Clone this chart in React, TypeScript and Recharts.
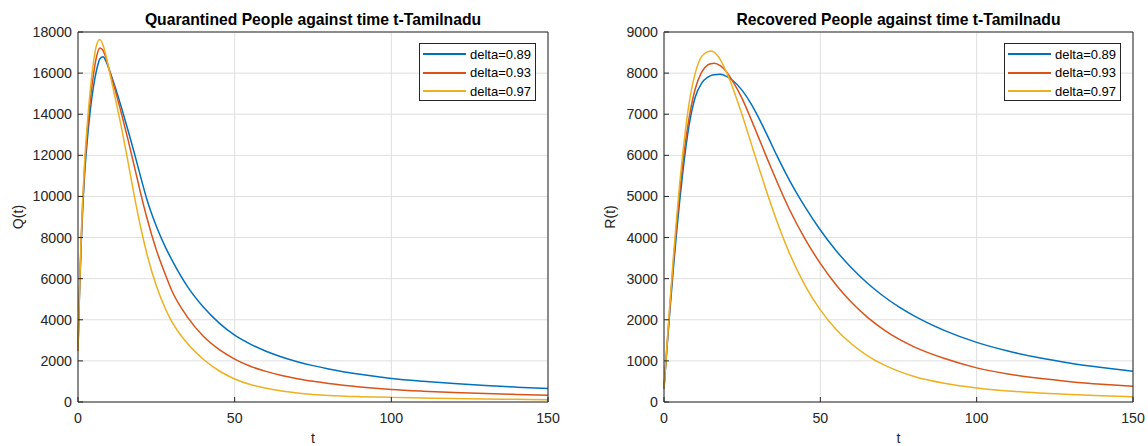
import React from 'react';
import { LineChart, Line, XAxis, YAxis, CartesianGrid, Legend } from 'recharts';

// ---------- data ----------
const seriesNames = ['delta=0.89', 'delta=0.93', 'delta=0.97'];
const seriesColors = ['#0072BD', '#D95319', '#EDB120'];

const timeTicks = [0, 50, 100, 150];
const qTicks = [0, 2000, 4000, 6000, 8000, 10000, 12000, 14000, 16000, 18000];
const rTicks = [0, 1000, 2000, 3000, 4000, 5000, 6000, 7000, 8000, 9000];

const qTime = [0, 0.5, 1, 2, 3, 4, 5, 6, 7, 8, 9, 10, 12, 14, 16, 18, 20, 22, 25, 28, 30, 35, 40, 45, 50, 55, 60, 65, 70, 75, 80, 90, 100, 110, 120, 130, 140, 150];
const qDelta089 = [2500, 5400, 7600, 10800, 12800, 14300, 15400, 16200, 16700, 16800, 16550, 16150, 15250, 14250, 13200, 12100, 10950, 9850, 8550, 7500, 6900, 5600, 4620, 3850, 3250, 2817, 2472, 2193, 1962, 1769, 1606, 1346, 1149, 1010, 895, 800, 722, 655];
const qDelta093 = [2500, 5500, 7800, 11100, 13200, 14800, 16000, 16850, 17220, 17100, 16700, 16150, 15100, 13950, 12740, 11450, 10150, 8950, 7400, 6150, 5400, 4120, 3200, 2560, 2090, 1740, 1490, 1293, 1135, 1008, 900, 732, 610, 527, 462, 410, 366, 330];
const qDelta097 = [2500, 5600, 8000, 11400, 13600, 15300, 16600, 17400, 17630, 17350, 16800, 16100, 14700, 13250, 11650, 10000, 8500, 7200, 5650, 4500, 3900, 2830, 2080, 1520, 1120, 850, 670, 540, 440, 370, 320, 260, 225, 195, 170, 150, 130, 114];

const rTime = [0, 1, 2, 3, 4, 5, 6, 7, 8, 10, 12, 14, 15, 16, 18, 20, 22, 25, 28, 30, 33, 36, 40, 45, 50, 55, 60, 65, 70, 75, 80, 90, 100, 110, 120, 130, 140, 150];
const rDelta089 = [330, 1350, 2330, 3250, 4100, 4880, 5580, 6200, 6720, 7420, 7750, 7900, 7940, 7960, 7970, 7920, 7820, 7580, 7235, 6955, 6490, 6010, 5410, 4760, 4185, 3685, 3260, 2895, 2585, 2320, 2095, 1730, 1450, 1240, 1075, 945, 840, 748];
const rDelta093 = [330, 1400, 2430, 3400, 4300, 5100, 5800, 6400, 6900, 7620, 8020, 8200, 8230, 8240, 8180, 8030, 7800, 7380, 6850, 6480, 5920, 5380, 4700, 3980, 3370, 2850, 2420, 2065, 1775, 1535, 1340, 1050, 830, 680, 575, 495, 432, 382];
const rDelta097 = [330, 1450, 2520, 3520, 4450, 5300, 6050, 6700, 7250, 8000, 8400, 8520, 8540, 8510, 8330, 8020, 7640, 6980, 6260, 5780, 5080, 4420, 3640, 2850, 2240, 1770, 1410, 1130, 915, 750, 620, 450, 341, 270, 220, 182, 152, 130];

// ---------- helpers ----------
const buildRows = (time: number[], a: number[], b: number[], c: number[]) =>
  time.map((t, i) => ({ t, d1: a[i], d2: b[i], d3: c[i] }));

const qRows = buildRows(qTime, qDelta089, qDelta093, qDelta097);
const rRows = buildRows(rTime, rDelta089, rDelta093, rDelta097);

const FONT = '"Liberation Sans", Arial, Helvetica, sans-serif';
const AXIS = '#262626';
const TEXT = '#262626';
const GRID = '#dfdfdf';
const AXIS_FONT = 14.2;

const renderLegend = (props: any) => {
  const payload = props.payload || [];
  return (
    <div
      style={{
        border: `1px solid ${AXIS}`,
        background: '#fff',
        boxSizing: 'border-box',
        width: 117,
        height: 58,
        paddingTop: 1,
        paddingLeft: 3,
        fontFamily: FONT,
        fontSize: 13,
        color: '#000',
      }}
    >
      {payload.map((p: any, i: number) => (
        <div key={i} style={{ display: 'flex', alignItems: 'center', height: 18.5, whiteSpace: 'nowrap' }}>
          <span style={{ display: 'inline-block', width: 43, height: 2, background: seriesColors[i] || p.color, marginRight: 4 }} />
          <span>{p.value}</span>
        </div>
      ))}
    </div>
  );
};

const makeYLabel = (text: string, cx: number) => (props: any) => {
  const vb = props.viewBox || {};
  const cy = (vb.y ?? 32) + (vb.height ?? 370) / 2;
  return (
    <text
      x={cx}
      y={cy}
      transform={`rotate(-90, ${cx}, ${cy})`}
      textAnchor="middle"
      dominantBaseline="central"
      fill={TEXT}
      fontSize={AXIS_FONT}
      fontFamily={FONT}
    >
      {text}
    </text>
  );
};

type PanelProps = {
  left: number;
  title: string;
  rows: any[];
  yTicks: number[];
  yMax: number;
  yLabel: string;
  yLabelX: number;
  yAxisWidth: number;
  rightMargin: number;
  legendLeft: number;
};

const Panel = ({ left, title, rows, yTicks, yMax, yLabel, yLabelX, yAxisWidth, rightMargin, legendLeft }: PanelProps) => {
  const width = 574;
  const height = 446;
  const plotLeft = yAxisWidth;
  const plotWidth = width - yAxisWidth - rightMargin;
  const tickStyle = { fill: TEXT, fontSize: AXIS_FONT, fontFamily: FONT };
  return (
    <div style={{ position: 'absolute', left, top: 0, width, height }}>
      <div
        style={{
          position: 'absolute',
          left: plotLeft,
          width: plotWidth,
          top: 11,
          textAlign: 'center',
          fontFamily: FONT,
          fontWeight: 'bold',
          fontSize: 15.7,
          lineHeight: '18px',
          color: '#000',
          zIndex: 2,
          whiteSpace: 'nowrap',
        }}
      >
        {title}
      </div>
      <LineChart width={width} height={height} data={rows} margin={{ top: 31, right: rightMargin - 1, bottom: 0, left: 0 }}>
        <CartesianGrid stroke={GRID} strokeWidth={1} />
        <XAxis
          dataKey="t"
          type="number"
          domain={[0, 150]}
          ticks={timeTicks}
          interval={0}
          height={44}
          axisLine={{ stroke: AXIS, strokeWidth: 1 }}
          tickLine={{ stroke: AXIS }}
          tickSize={-5}
          tickMargin={16}
          tick={tickStyle}
          label={{ value: 't', position: 'insideBottom', offset: 3, fill: TEXT, fontSize: AXIS_FONT, fontFamily: FONT }}
        />
        <XAxis
          xAxisId="top"
          orientation="top"
          dataKey="t"
          type="number"
          domain={[0, 150]}
          ticks={timeTicks}
          interval={0}
          height={1}
          tick={false}
          tickSize={-5}
          axisLine={{ stroke: AXIS, strokeWidth: 1 }}
          tickLine={{ stroke: AXIS }}
        />
        <YAxis
          type="number"
          domain={[0, yMax]}
          ticks={yTicks}
          interval={0}
          width={yAxisWidth}
          axisLine={{ stroke: AXIS, strokeWidth: 1 }}
          tickLine={{ stroke: AXIS }}
          tickSize={-5}
          tickMargin={11}
          tick={tickStyle}
          label={{ content: makeYLabel(yLabel, yLabelX) }}
        />
        <YAxis
          yAxisId="right"
          orientation="right"
          type="number"
          domain={[0, yMax]}
          ticks={yTicks}
          interval={0}
          width={1}
          tick={false}
          tickSize={-5}
          axisLine={{ stroke: AXIS, strokeWidth: 1 }}
          tickLine={{ stroke: AXIS }}
        />
        <Legend
          layout="vertical"
          align="center"
          verticalAlign="middle"
          content={renderLegend}
          wrapperStyle={{ left: legendLeft, top: 43, width: 117, height: 58 }}
        />
        <Line type="monotone" dataKey="d1" name={seriesNames[0]} stroke={seriesColors[0]} strokeWidth={1.5} dot={false} activeDot={false} isAnimationActive={false} />
        <Line type="monotone" dataKey="d2" name={seriesNames[1]} stroke={seriesColors[1]} strokeWidth={1.5} dot={false} activeDot={false} isAnimationActive={false} />
        <Line type="monotone" dataKey="d3" name={seriesNames[2]} stroke={seriesColors[2]} strokeWidth={1.5} dot={false} activeDot={false} isAnimationActive={false} />
      </LineChart>
    </div>
  );
};

export default function App() {
  return (
    <div style={{ position: 'absolute', left: 0, top: 0, width: 1148, height: 446, background: '#fff', overflow: 'hidden' }}>
      <Panel
        left={0}
        title="Quarantined People against time t-Tamilnadu"
        rows={qRows}
        yTicks={qTicks}
        yMax={18000}
        yLabel="Q(t)"
        yLabelX={18}
        yAxisWidth={78}
        rightMargin={26}
        legendLeft={419}
      />
      <Panel
        left={574}
        title="Recovered People against time t-Tamilnadu"
        rows={rRows}
        yTicks={rTicks}
        yMax={9000}
        yLabel="R(t)"
        yLabelX={36}
        yAxisWidth={90}
        rightMargin={15}
        legendLeft={430}
      />
    </div>
  );
}
